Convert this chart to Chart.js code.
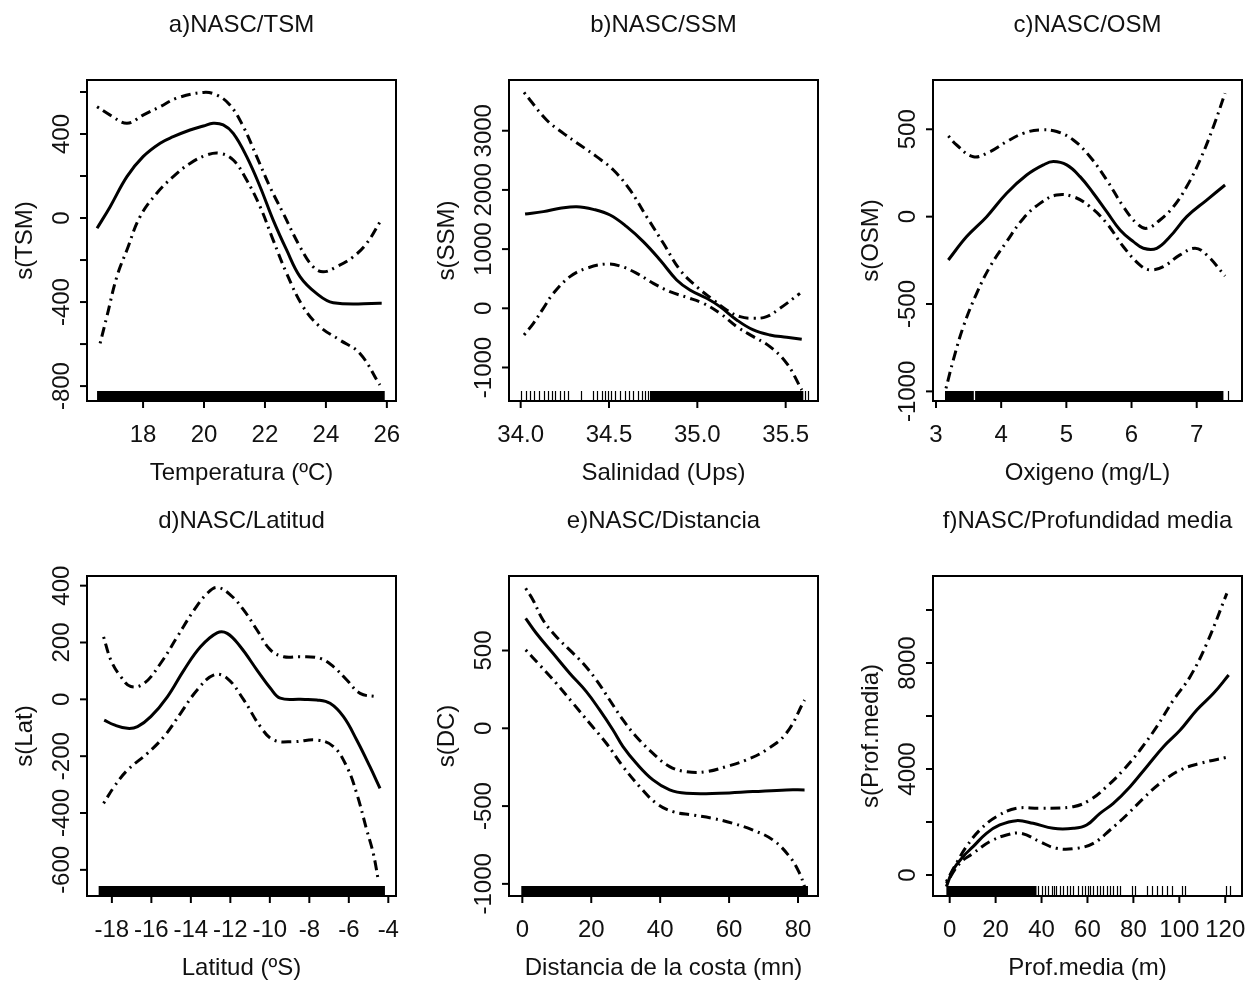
<!DOCTYPE html>
<html>
<head>
<meta charset="utf-8">
<script src="https://cdn.jsdelivr.net/npm/chart.js@4.4.0/dist/chart.umd.min.js"></script>
<style>
  body { margin: 0; background: #fff; width: 1255px; height: 983px; position: relative; overflow: hidden; }
  canvas { position: absolute; }
</style>
</head>
<body>
<canvas id="pa" width="409" height="492" style="left:0px;top:0px"></canvas>
<canvas id="pb" width="409" height="492" style="left:422px;top:0px"></canvas>
<canvas id="pc" width="409" height="492" style="left:846px;top:0px"></canvas>
<canvas id="pd" width="409" height="487" style="left:0px;top:496px"></canvas>
<canvas id="pe" width="409" height="487" style="left:422px;top:496px"></canvas>
<canvas id="pf" width="409" height="487" style="left:846px;top:496px"></canvas>
<script>
// a) NASC/TSM  -- smooth fit and confidence band, [x, s(x)]
const tsmFit = [[16.49,-49],[16.92,54],[17.47,197],[18.0,292],[18.56,356],[18.99,387],[19.54,419],[19.98,438],[20.3,451],[20.63,443],[20.96,403],[21.4,292],[21.84,149],[22.27,-10],[22.71,-152],[23.15,-279],[23.69,-359],[24.24,-403],[25.83,-406]];
const tsmUpper = [[16.49,530],[16.92,490],[17.47,451],[18.0,490],[18.56,530],[19.1,570],[19.98,598],[20.41,586],[20.85,538],[21.29,435],[21.73,292],[22.16,149],[22.6,22],[23.15,-137],[23.58,-232],[23.91,-256],[24.35,-232],[24.9,-184],[25.34,-120],[25.78,-17]];
const tsmLower = [[16.59,-597],[16.81,-470],[17.14,-279],[17.47,-152],[17.9,6],[18.45,118],[18.99,197],[19.54,260],[20.09,300],[20.52,308],[20.96,276],[21.4,181],[21.84,54],[22.27,-105],[22.71,-263],[23.25,-422],[23.8,-517],[24.46,-581],[25.11,-644],[25.77,-795]];
const tsmRugBands = [[16.49,25.93]];
const tsmRugTicks = [];
const tsmXTicks = [18,20,22,24,26];
const tsmXLabels = ['18','20','22','24','26'];
const tsmYTicks = [-800,-600,-400,-200,0,200,400,600];
const tsmYLabels = ['-800','','-400','','0','','400',''];

// b) NASC/SSM
const ssmFit = [[34.025,1593],[34.128,1633],[34.223,1689],[34.317,1717],[34.411,1672],[34.506,1576],[34.6,1379],[34.694,1126],[34.789,816],[34.883,479],[34.958,310],[35.053,169],[35.128,28],[35.223,-197],[35.317,-366],[35.411,-450],[35.506,-490],[35.591,-524]];
const ssmUpper = [[34.019,3648],[34.053,3519],[34.147,3181],[34.242,2956],[34.336,2759],[34.43,2562],[34.525,2336],[34.619,1999],[34.713,1548],[34.808,1098],[34.902,648],[34.996,366],[35.091,141],[35.166,-28],[35.242,-141],[35.317,-169],[35.392,-141],[35.468,0],[35.581,253]];
const ssmLower = [[34.019,-450],[34.072,-253],[34.128,0],[34.185,253],[34.279,535],[34.374,676],[34.487,749],[34.562,715],[34.657,591],[34.751,422],[34.845,281],[34.94,186],[35.034,84],[35.128,-84],[35.223,-310],[35.317,-479],[35.411,-647],[35.506,-929],[35.591,-1379]];
const ssmRugBands = [[34.732,35.6]];
const ssmRugTicks = [34.002,34.028,34.053,34.077,34.104,34.134,34.156,34.175,34.194,34.222,34.247,34.266,34.341,34.411,34.43,34.458,34.477,34.492,34.511,34.534,34.562,34.59,34.613,34.637,34.662,34.685,34.703,34.722,35.609,35.628];
const ssmXTicks = [34.0,34.5,35.0,35.5];
const ssmXLabels = ['34.0','34.5','35.0','35.5'];
const ssmYTicks = [-1000,0,1000,2000,3000];
const ssmYLabels = ['-1000','0','1000','2000','3000'];

// c) NASC/OSM
const osmFit = [[3.189,-248],[3.471,-114],[3.778,0],[4.084,134],[4.391,238],[4.647,296],[4.801,315],[5.005,296],[5.21,229],[5.414,134],[5.619,29],[5.824,-76],[6.028,-143],[6.182,-181],[6.386,-181],[6.591,-114],[6.847,0],[7.153,95],[7.435,181]];
const osmUpper = [[3.189,462],[3.317,410],[3.573,343],[3.829,372],[4.084,429],[4.34,477],[4.596,496],[4.852,487],[5.107,439],[5.363,343],[5.619,210],[5.875,57],[6.079,-38],[6.233,-67],[6.437,-19],[6.642,57],[6.847,172],[7.051,324],[7.256,515],[7.435,706]];
const osmLower = [[3.153,-983],[3.266,-820],[3.419,-630],[3.624,-439],[3.829,-286],[4.084,-143],[4.34,-10],[4.596,76],[4.852,124],[5.107,114],[5.363,57],[5.619,-38],[5.875,-172],[6.13,-277],[6.284,-305],[6.488,-286],[6.744,-219],[6.974,-181],[7.153,-219],[7.435,-340]];
const osmRugBands = [[3.138,3.58],[3.6,7.41]];
const osmRugTicks = [7.476];
const osmXTicks = [3,4,5,6,7];
const osmXLabels = ['3','4','5','6','7'];
const osmYTicks = [-1000,-500,0,500];
const osmYLabels = ['-1000','-500','0','500'];

// d) NASC/Latitud
const latFit = [[-18.39,-73],[-17.88,-90],[-17.21,-102],[-16.7,-96],[-16.03,-61],[-15.19,9],[-14.35,103],[-13.51,185],[-12.67,234],[-12.16,232],[-11.49,185],[-10.65,103],[-9.97,39],[-9.47,4],[-8.46,0],[-7.62,-2],[-6.95,-14],[-6.27,-61],[-5.6,-143],[-4.93,-237],[-4.42,-313]];
const latUpper = [[-18.42,220],[-18.05,138],[-17.55,80],[-17.04,45],[-16.37,56],[-15.53,127],[-14.69,220],[-13.84,314],[-13.17,373],[-12.67,394],[-11.99,367],[-11.32,314],[-10.65,244],[-9.97,174],[-9.3,150],[-8.46,150],[-7.45,144],[-6.78,115],[-6.1,68],[-5.43,21],[-4.59,9]];
const latLower = [[-18.42,-366],[-17.88,-307],[-17.21,-249],[-16.2,-190],[-15.36,-131],[-14.52,-49],[-13.68,33],[-12.83,86],[-12.16,74],[-11.32,-2],[-10.48,-96],[-9.81,-143],[-8.8,-149],[-7.62,-143],[-6.78,-166],[-6.1,-237],[-5.6,-331],[-5.09,-460],[-4.76,-542],[-4.51,-635]];
const latRugBands = [[-18.67,-4.17]];
const latRugTicks = [];
const latXTicks = [-18,-16,-14,-12,-10,-8,-6,-4];
const latXLabels = ['-18','-16','-14','-12','-10','-8','-6','-4'];
const latYTicks = [-600,-400,-200,0,200,400];
const latYLabels = ['-600','-400','-200','0','200','400'];

// e) NASC/Distancia
const dcFit = [[0.97,707],[4.06,611],[8.9,482],[13.73,354],[18.57,236],[22.44,118],[26.31,-11],[29.21,-118],[33.08,-225],[37.91,-332],[42.75,-396],[47.58,-418],[57.25,-418],[66.92,-407],[76.6,-396],[81.9,-396]];
const dcUpper = [[0.97,900],[3.09,825],[5.99,696],[9.86,589],[13.73,504],[17.6,418],[21.47,311],[25.34,182],[29.21,54],[33.08,-54],[37.91,-161],[42.75,-246],[47.58,-279],[53.38,-279],[59.18,-246],[64.99,-204],[70.79,-139],[76.6,-32],[81.9,182]];
const dcLower = [[0.97,504],[5.03,407],[9.86,289],[14.7,161],[19.54,32],[24.37,-96],[29.21,-246],[34.04,-375],[38.88,-482],[43.71,-536],[49.52,-557],[55.32,-579],[61.12,-611],[66.92,-654],[72.73,-718],[77.56,-825],[80.46,-932],[81.9,-1018]];
const dcRugBands = [[-0.3,82.9]];
const dcRugTicks = [];
const dcXTicks = [0,20,40,60,80];
const dcXLabels = ['0','20','40','60','80'];
const dcYTicks = [-1000,-500,0,500];
const dcYLabels = ['-1000','-500','0','500'];

// f) NASC/Profundidad media
const profFit = [[-1.45,-440],[1.45,189],[5.82,692],[10.18,1069],[16.0,1572],[21.82,1887],[29.09,2051],[36.36,1950],[45.09,1761],[53.82,1761],[59.64,1887],[65.45,2327],[71.27,2705],[78.55,3334],[85.82,4088],[93.09,4843],[100.4,5472],[107.6,6227],[114.9,6856],[121.5,7548]];
const profUpper = [[-1.45,-252],[2.91,440],[7.27,1069],[13.09,1698],[20.36,2201],[29.09,2516],[39.27,2516],[53.82,2579],[61.09,2830],[68.36,3334],[75.64,3963],[82.91,4718],[90.18,5598],[97.45,6605],[104.7,7485],[112.0,8743],[120.7,10630]];
const profLower = [[-1.45,-315],[4.36,440],[10.18,818],[17.45,1258],[24.73,1510],[31.27,1572],[39.27,1258],[46.55,1006],[55.27,1006],[62.55,1195],[69.82,1698],[77.09,2264],[84.36,2893],[91.64,3460],[100.4,3963],[109.1,4214],[120.7,4441]];
const profRugBands = [[-1.45,37.8]];
const profRugTicks = [38.5,40,41.5,42.9,44.4,45.4,46.5,48,49.5,50.9,52.4,53.8,56,57.5,58.9,60.4,61.1,62.5,64,65.5,66.9,68.4,69.8,71.3,72.7,74.2,79.3,80.7,85.8,88,90.2,92.4,94.8,96.7,101.1,102.5,120.4,121.9];
const profXTicks = [0,20,40,60,80,100,120];
const profXLabels = ['0','20','40','60','80','100','120'];
const profYTicks = [0,2000,4000,6000,8000,10000];
const profYLabels = ['0','','4000','','8000',''];

const FONT = '24px "Liberation Sans", Arial, sans-serif';
const INK = '#111';

// R-style box, ticks, labels and rug
const rAxes = {
  id: 'rAxes',
  beforeDatasetsDraw(chart, args, o) {
    const { ctx, chartArea: a, scales: { x } } = chart;
    ctx.save();
    ctx.fillStyle = '#000';
    ctx.strokeStyle = '#000';
    ctx.lineWidth = 1.2;
    o.rugBands.forEach(([s, e]) => {
      const x1 = x.getPixelForValue(s), x2 = x.getPixelForValue(e);
      ctx.fillRect(x1, a.bottom - 10, x2 - x1, 10);
    });
    o.rugTicks.forEach(v => {
      const px = Math.round(x.getPixelForValue(v)) + 0.5;
      ctx.beginPath();
      ctx.moveTo(px, a.bottom);
      ctx.lineTo(px, a.bottom - 10);
      ctx.stroke();
    });
    ctx.restore();
  },
  afterDraw(chart, args, o) {
    const { ctx, chartArea: a, scales: { x, y } } = chart;
    ctx.save();
    ctx.strokeStyle = '#000';
    ctx.fillStyle = INK;
    ctx.lineWidth = 2;
    ctx.strokeRect(a.left, a.top, a.right - a.left, a.bottom - a.top);
    ctx.font = FONT;
    ctx.textAlign = 'center';
    ctx.textBaseline = 'middle';

    o.xTicks.forEach((v, i) => {
      const px = x.getPixelForValue(v);
      ctx.beginPath();
      ctx.moveTo(px, a.bottom);
      ctx.lineTo(px, a.bottom + 7);
      ctx.stroke();
      ctx.fillText(o.xLabels[i], px, a.bottom + 34);
    });
    o.yTicks.forEach((v, i) => {
      const py = y.getPixelForValue(v);
      ctx.beginPath();
      ctx.moveTo(a.left, py);
      ctx.lineTo(a.left - 7, py);
      ctx.stroke();
      if (o.yLabels[i]) {
        ctx.save();
        ctx.translate(a.left - 25, py);
        ctx.rotate(-Math.PI / 2);
        ctx.fillText(o.yLabels[i], 0, 0);
        ctx.restore();
      }
    });

    // titles
    const cx = (a.left + a.right) / 2;
    ctx.fillText(o.title, cx, a.top - 55);
    ctx.fillText(o.xTitle, cx, a.bottom + 72);
    ctx.save();
    ctx.translate(a.left - 62, (a.top + a.bottom) / 2);
    ctx.rotate(-Math.PI / 2);
    ctx.fillText(o.yTitle, 0, 0);
    ctx.restore();
    ctx.restore();
  }
};

function makePanel(id, p) {
  const canvas = document.getElementById(id);
  const line = (data, dash) => ({
    data: data.map(([x, y]) => ({ x, y })),
    showLine: true,
    borderColor: '#000',
    borderWidth: 3,
    borderDash: dash,
    pointRadius: 0,
    tension: 0.4,
    fill: false
  });
  return new Chart(canvas.getContext('2d'), {
    type: 'scatter',
    data: {
      datasets: [
        line(p.fit, []),
        line(p.upper, [2, 5, 10, 5]),
        line(p.lower, [2, 5, 10, 5])
      ]
    },
    options: {
      responsive: false,
      animation: false,
      layout: { padding: { left: 87, top: 80, right: 13, bottom: canvas.height - 80 - p.boxH } },
      scales: {
        x: { type: 'linear', display: false, min: p.xMin, max: p.xMax },
        y: { type: 'linear', display: false, min: p.yMin, max: p.yMax }
      },
      plugins: {
        legend: { display: false },
        tooltip: { enabled: false },
        rAxes: {
          title: p.title, xTitle: p.xTitle, yTitle: p.yTitle,
          xTicks: p.xTicks, xLabels: p.xLabels,
          yTicks: p.yTicks, yLabels: p.yLabels,
          rugBands: p.rugBands, rugTicks: p.rugTicks
        }
      }
    },
    plugins: [rAxes]
  });
}

makePanel('pa', {
  title: 'a)NASC/TSM', xTitle: 'Temperatura (ºC)', yTitle: 's(TSM)',
  fit: tsmFit, upper: tsmUpper, lower: tsmLower,
  rugBands: tsmRugBands, rugTicks: tsmRugTicks,
  xTicks: tsmXTicks, xLabels: tsmXLabels, yTicks: tsmYTicks, yLabels: tsmYLabels,
  xMin: 16.16, xMax: 26.3, yMin: -871, yMax: 657, boxH: 321
});
makePanel('pb', {
  title: 'b)NASC/SSM', xTitle: 'Salinidad (Ups)', yTitle: 's(SSM)',
  fit: ssmFit, upper: ssmUpper, lower: ssmLower,
  rugBands: ssmRugBands, rugTicks: ssmRugTicks,
  xTicks: ssmXTicks, xLabels: ssmXLabels, yTicks: ssmYTicks, yLabels: ssmYLabels,
  xMin: 33.934, xMax: 35.683, yMin: -1566, yMax: 3857, boxH: 321
});
makePanel('pc', {
  title: 'c)NASC/OSM', xTitle: 'Oxigeno (mg/L)', yTitle: 's(OSM)',
  fit: osmFit, upper: osmUpper, lower: osmLower,
  rugBands: osmRugBands, rugTicks: osmRugTicks,
  xTicks: osmXTicks, xLabels: osmXLabels, yTicks: osmYTicks, yLabels: osmYLabels,
  xMin: 2.954, xMax: 7.695, yMin: -1055, yMax: 782, boxH: 321
});
makePanel('pd', {
  title: 'd)NASC/Latitud', xTitle: 'Latitud (ºS)', yTitle: 's(Lat)',
  fit: latFit, upper: latUpper, lower: latLower,
  rugBands: latRugBands, rugTicks: latRugTicks,
  xTicks: latXTicks, xLabels: latXLabels, yTicks: latYTicks, yLabels: latYLabels,
  xMin: -19.26, xMax: -3.61, yMin: -692, yMax: 434, boxH: 320
});
makePanel('pe', {
  title: 'e)NASC/Distancia', xTitle: 'Distancia de la costa (mn)', yTitle: 's(DC)',
  fit: dcFit, upper: dcUpper, lower: dcLower,
  rugBands: dcRugBands, rugTicks: dcRugTicks,
  xTicks: dcXTicks, xLabels: dcXLabels, yTicks: dcYTicks, yLabels: dcYLabels,
  xMin: -3.87, xMax: 85.8, yMin: -1078, yMax: 979, boxH: 320
});
makePanel('pf', {
  title: 'f)NASC/Profundidad media', xTitle: 'Prof.media (m)', yTitle: 's(Prof.media)',
  fit: profFit, upper: profUpper, lower: profLower,
  rugBands: profRugBands, rugTicks: profRugTicks,
  xTicks: profXTicks, xLabels: profXLabels, yTicks: profYTicks, yLabels: profYLabels,
  xMin: -7.27, xMax: 127.3, yMin: -793, yMax: 11284, boxH: 320
});
</script>
</body>
</html>
